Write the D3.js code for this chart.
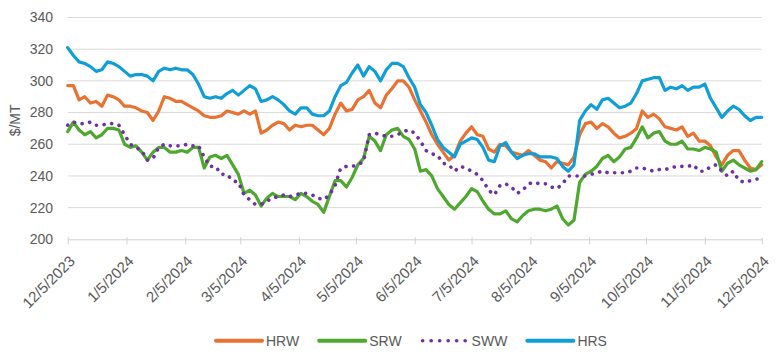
<!DOCTYPE html>
<html>
<head>
<meta charset="utf-8">
<script src="https://cdn.jsdelivr.net/npm/d3@7"></script>
<style>
  html, body { margin: 0; padding: 0; background: #ffffff; }
  svg { display: block; }
  text { font-family: "Liberation Sans", Arial, Helvetica, sans-serif; }
</style>
</head>
<body>
<svg id="chart" width="776" height="355"></svg>
<script>
// ---------- DATA ----------
const dates = [
  "2023-12-05","2023-12-08","2023-12-11","2023-12-14","2023-12-17","2023-12-20","2023-12-23","2023-12-26","2023-12-29",
  "2024-01-01","2024-01-04","2024-01-07","2024-01-10","2024-01-13","2024-01-16","2024-01-19","2024-01-22","2024-01-25","2024-01-28","2024-01-31",
  "2024-02-03","2024-02-06","2024-02-09","2024-02-12","2024-02-15","2024-02-18","2024-02-21","2024-02-24","2024-02-27",
  "2024-03-01","2024-03-04","2024-03-07","2024-03-10","2024-03-13","2024-03-16","2024-03-19","2024-03-22","2024-03-25","2024-03-28","2024-03-31",
  "2024-04-03","2024-04-06","2024-04-09","2024-04-12","2024-04-15","2024-04-18","2024-04-21","2024-04-24","2024-04-27","2024-04-30",
  "2024-05-03","2024-05-06","2024-05-09","2024-05-12","2024-05-15","2024-05-18","2024-05-21","2024-05-24","2024-05-27","2024-05-30",
  "2024-06-02","2024-06-05","2024-06-08","2024-06-11","2024-06-14","2024-06-17","2024-06-20","2024-06-23","2024-06-26","2024-06-29",
  "2024-07-02","2024-07-05","2024-07-08","2024-07-11","2024-07-14","2024-07-17","2024-07-20","2024-07-23","2024-07-26","2024-07-29",
  "2024-08-01","2024-08-04","2024-08-07","2024-08-10","2024-08-13","2024-08-16","2024-08-19","2024-08-22","2024-08-25","2024-08-28","2024-08-31",
  "2024-09-03","2024-09-06","2024-09-09","2024-09-12","2024-09-15","2024-09-18","2024-09-21","2024-09-24","2024-09-27","2024-09-30",
  "2024-10-03","2024-10-06","2024-10-09","2024-10-12","2024-10-15","2024-10-18","2024-10-21","2024-10-24","2024-10-27","2024-10-30",
  "2024-11-02","2024-11-05","2024-11-08","2024-11-11","2024-11-14","2024-11-17","2024-11-20","2024-11-23","2024-11-26","2024-11-29",
  "2024-12-02","2024-12-05"
];

const hrw = [
  297,297,288,290,286,287,284,291,290,288,
  284,284,283,281,280,275,281,290,289,287,
  287,285,283,281,278,277,277,278,281,280,
  279,281,279,281,267,269,272,274,273,269,
  272,271,272,272,269,266,270,279,286,281,
  282,288,290,294,286,283,291,295,300,300,
  296,288,281,274,266,260,255,250,253,262,
  267,271,266,265,257,255,260,259,255,254,
  253,256,253,250,249,245,249,248,247,252,
  266,273,274,270,273,271,267,264,265,267,
  270,281,277,279,276,271,270,269,271,265,
  267,262,262,259,252,247,253,256,256,250,
  245,244,247
];

const srw = [
  268,274,269,266,268,264,266,270,270,269,
  260,258,259,255,250,255,258,258,255,255,
  256,255,258,258,245,252,253,251,253,247,
  241,229,231,228,221,226,229,227,227,227,
  225,229,227,224,222,217,227,237,237,233,
  239,247,251,265,262,256,266,269,270,265,
  263,257,243,244,240,232,227,222,219,223,
  227,232,230,224,219,216,216,218,213,211,
  215,218,219,219,218,219,221,213,209,212,
  236,241,243,246,251,253,249,252,257,258,
  264,271,264,267,268,262,260,260,262,257,
  257,256,258,257,255,243,248,250,247,245,
  243,244,249
];

const sww = [
  272,274,273,273,274,272,272,273,273,272,
  266,260,258,256,250,251,258,260,259,259,
  259,260,259,259,252,246,246,241,241,237,
  236,228,225,222,222,224,226,227,228,227,
  228,229,229,228,226,225,228,234,245,246,
  246,247,249,266,267,266,265,265,266,268,
  269,267,262,256,254,253,248,247,243,246,
  245,243,241,237,231,228,234,235,233,229,
  231,235,236,235,235,233,232,235,240,240,
  240,240,241,242,243,242,242,242,242,243,
  245,245,244,243,244,244,245,246,246,246,
  247,243,243,246,247,243,240,243,237,236,
  237,238,238
];

const hrs = [
  321,316,312,311,309,306,307,312,311,309,
  306,303,304,304,303,300,306,308,307,308,
  307,307,304,298,290,289,290,289,292,294,
  291,294,297,295,287,288,290,288,285,281,
  279,283,283,279,278,278,281,290,297,299,
  305,310,303,309,306,300,307,311,311,309,
  302,296,285,280,272,263,258,255,252,260,
  262,264,263,258,250,249,259,261,255,251,
  253,254,254,252,252,252,251,246,243,247,
  275,281,285,282,288,289,286,283,284,286,
  292,300,301,302,302,294,296,295,297,294,
  296,296,298,289,283,277,281,284,282,278,
  275,277,277
];

const seriesNames = ["HRW", "SRW", "SWW", "HRS"];
const seriesValues = [hrw, srw, sww, hrs];
const seriesColors = ["#E97132", "#4EA72E", "#7030A0", "#0F9ED5"];
const seriesDotted = [false, false, true, false];

const xTickLabels = ["12/5/2023","1/5/2024","2/5/2024","3/5/2024","4/5/2024","5/5/2024","6/5/2024",
                     "7/5/2024","8/5/2024","9/5/2024","10/5/2024","11/5/2024","12/5/2024"];
const yTicks = [200, 220, 240, 260, 280, 300, 320, 340];
const yAxisTitle = "$/MT";

// ---------- DRAWING ----------
(function draw() {
  const parseIso = d3.timeParse("%Y-%m-%d");
  const parseLabel = d3.timeParse("%-m/%-d/%Y");
  const dateObjs = dates.map(parseIso);

  const svg = d3.select("#chart");
  svg.append("rect").attr("width", 776).attr("height", 355).attr("fill", "#ffffff");

  const pLeft = 67.7, pRight = 761.7, pTop = 17.5, pBottom = 239.3;
  const x = d3.scaleTime()
    .domain([parseLabel(xTickLabels[0]), parseLabel(xTickLabels[xTickLabels.length - 1])])
    .range([pLeft, pRight]);
  const y = d3.scaleLinear().domain([200, 340]).range([pBottom, pTop]);

  const textColor = "#595959";
  const gridColor = "#d9d9d9";

  svg.append("g").selectAll("line")
    .data(yTicks.filter(v => v !== 200))
    .join("line")
    .attr("x1", pLeft).attr("x2", pRight)
    .attr("y1", d => y(d)).attr("y2", d => y(d))
    .attr("stroke", gridColor).attr("stroke-width", 1);

  svg.append("g").selectAll("text")
    .data(yTicks)
    .join("text")
    .attr("x", 53)
    .attr("y", d => y(d))
    .attr("dy", "0.35em")
    .attr("text-anchor", "end")
    .attr("font-size", 14)
    .attr("fill", textColor)
    .text(d => d);

  svg.append("text")
    .attr("transform", `translate(15,${(pTop + pBottom) / 2 - 8}) rotate(-90)`)
    .attr("text-anchor", "middle")
    .attr("dy", "0.35em")
    .attr("font-size", 14)
    .attr("fill", textColor)
    .text(yAxisTitle);

  const tickDates = xTickLabels.map(parseLabel);
  const xAxis = d3.axisBottom(x)
    .tickValues(tickDates)
    .tickSize(5)
    .tickSizeOuter(0)
    .tickFormat((d, i) => xTickLabels[i]);

  const gx = svg.append("g")
    .attr("transform", `translate(0,${pBottom})`)
    .call(xAxis);
  gx.select(".domain").attr("stroke", "#d0d0d0").attr("stroke-width", 1);
  gx.selectAll(".tick line").attr("stroke", "#d0d0d0").attr("stroke-width", 1)
    .attr("y1", -2);
  gx.selectAll(".tick text")
    .attr("font-family", "Liberation Sans, Arial, sans-serif")
    .attr("font-size", 15)
    .attr("fill", textColor)
    .attr("text-anchor", "end")
    .attr("x", 0).attr("y", 0).attr("dy", "0.35em")
    .attr("transform", "translate(4,19) rotate(-45)");

  const lineGen = d3.line()
    .x((d, i) => x(dateObjs[i]))
    .y(d => y(d));

  const gLines = svg.append("g");
  seriesValues.forEach((vals, k) => {
    const p = gLines.append("path")
      .datum(vals)
      .attr("d", lineGen)
      .attr("fill", "none")
      .attr("stroke", seriesColors[k])
      .attr("stroke-linejoin", "round")
      .attr("stroke-linecap", "round");
    if (seriesDotted[k]) {
      p.attr("stroke-width", 3.6).attr("stroke-dasharray", "0.1,7.6");
    } else {
      p.attr("stroke-width", 3.2);
    }
  });

  const legend = svg.append("g");
  let lx = 216;
  const ly = 340.7;
  seriesNames.forEach((name, k) => {
    const l = legend.append("line")
      .attr("x1", lx).attr("x2", lx + 46)
      .attr("y1", ly).attr("y2", ly)
      .attr("stroke", seriesColors[k])
      .attr("stroke-linecap", "round");
    if (seriesDotted[k]) {
      l.attr("x1", lx + 1).attr("stroke-width", 3.6).attr("stroke-dasharray", "0.1,8.4");
    } else {
      l.attr("stroke-width", 4);
    }
    const t = legend.append("text")
      .attr("x", lx + 50)
      .attr("y", ly)
      .attr("dy", "0.36em")
      .attr("font-size", 14)
      .attr("fill", textColor)
      .text(name);
    lx = lx + 50 + t.node().getComputedTextLength() + 20;
  });
})();
</script>
</body>
</html>
